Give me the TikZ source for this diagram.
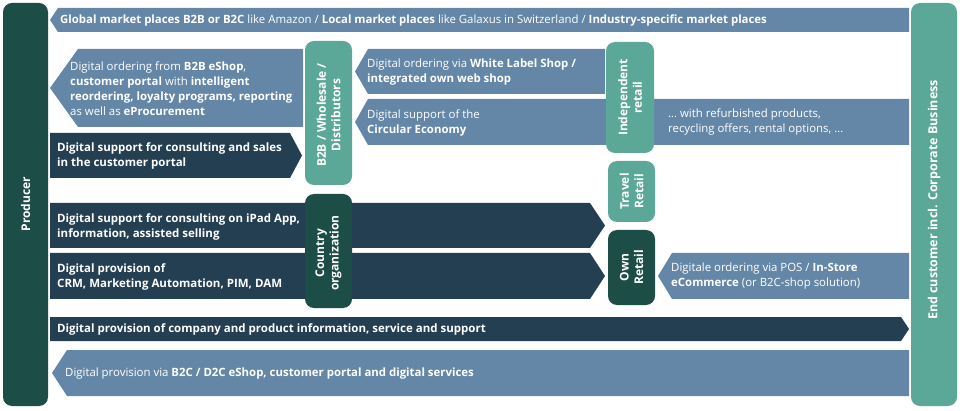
\documentclass[tikz,border=0pt]{standalone}
\usepackage{fontspec}
\setmainfont{Open Sans}
\usetikzlibrary{calc}
\definecolor{prodgreen}{HTML}{1D4D47}
\definecolor{custteal}{HTML}{5BA898}
\definecolor{flowblue}{HTML}{6587A7}
\definecolor{flownavy}{HTML}{243F52}
% flow band pointing left / right: [colour](x left:x right:y top:y bottom:tip depth)
\def\leftflow[#1](#2:#3:#4:#5:#6){\fill[#1] (#2,{(#4+#5)/2}) -- ({#2+#6},#4) -- (#3,#4) -- (#3,#5) -- ({#2+#6},#5) -- cycle;}
\def\rightflow[#1](#2:#3:#4:#5:#6){\fill[#1] (#2,#4) -- ({#3-#6},#4) -- (#3,{(#4+#5)/2}) -- ({#3-#6},#5) -- (#2,#5) -- cycle;}
\tikzset{
  flowtext/.style={anchor=west, align=left, text=white, inner sep=0pt, font=\fontsize{11.4}{15}\selectfont},
  boldflowtext/.style={flowtext, font=\bfseries\fontsize{11.5}{15}\selectfont},
  channel/.style={rounded corners=9pt},
  channeltext/.style={rotate=90, align=center, text=white, inner sep=0pt, font=\bfseries\fontsize{12}{14.5}\selectfont}
}
\begin{document}
\begin{tikzpicture}[x=1pt, y=-1pt]
		%%%%% START %%%%%
		\useasboundingbox (0, 0) rectangle (960, 411);
		
		% producer and end customer
		\fill[prodgreen, channel] (3, 3) rectangle (48, 406);
		\fill[custteal, channel] (911, 3) rectangle (957, 406);
		\node[channeltext, font=\bfseries\fontsize{12}{14}\selectfont] (producer) at (25.5, 204) {Producer};
		\node[channeltext, font=\bfseries\fontsize{12.5}{14}\selectfont] (customer) at (934, 200) {End customer incl. Corporate Business};
		
		% flows
		\leftflow[flowblue](50:909:8:32:8);
		\leftflow[flowblue](50:303:49:127:28);
		\leftflow[flowblue](355:605:49:94:13);
		\leftflow[flowblue](355:909:99:145:13);
		\rightflow[flownavy](50:302:133:178:12);
		\rightflow[flownavy](50:605:203:248:15);
		\rightflow[flownavy](50:605:253:299:15);
		\leftflow[flowblue](658:909:253:299:14);
		\rightflow[flownavy](50:909:317:341:8);
		\leftflow[flowblue](52:909:350:396:15);
		
		% channels
		\fill[custteal, channel] (305, 41) rectangle (352, 185);
		\fill[prodgreen, channel] (305, 194) rectangle (352, 308);
		\fill[custteal, channel] (606, 42) rectangle (654, 153);
		\fill[custteal, channel] (608, 161) rectangle (655, 222);
		\fill[prodgreen, channel] (608, 230) rectangle (655, 305);
		\node[channeltext] (b2b) at (328.5, 115) {B2B / Wholesale /\\Distributors};
		\node[channeltext] (country) at (328.5, 253) {Country\\organization};
		\node[channeltext] (independent) at (630, 97.5) {Independent\\retail};
		\node[channeltext] (travel) at (631.5, 191.5) {Travel\\Retail};
		\node[channeltext] (ownretail) at (631.5, 267.5) {Own\\Retail};
		
		% texts
		\node[flowtext] (marketplaces) at (60, 20.5) {\textbf{Global market places B2B or B2C} like Amazon / \textbf{Local market places} like Galaxus in Switzerland / \textbf{Industry-specific market places}};
		\node[flowtext] (eshop) at (70, 89) {Digital ordering from \textbf{B2B eShop},\\\textbf{customer portal} with \textbf{intelligent}\\\textbf{reordering, loyalty programs, reporting}\\as well as \textbf{eProcurement}};
		\node[flowtext] (whitelabel) at (367, 72.5) {Digital ordering via \textbf{White Label Shop /}\\\textbf{integrated own web shop}};
		\node[flowtext] (circular) at (367, 123) {Digital support of the\\\textbf{Circular Economy}};
		\node[flowtext] (refurbished) at (668, 122.5) {\dots\ with refurbished products,\\recycling offers, rental options, \dots};
		\node[boldflowtext] (portal) at (57, 155.5) {Digital support for consulting and sales\\in the customer portal};
		\node[boldflowtext] (ipad) at (57, 227) {Digital support for consulting on iPad App,\\information, assisted selling};
		\node[boldflowtext] (crm) at (57, 276.5) {Digital provision of\\CRM, Marketing Automation, PIM, DAM};
		\node[flowtext] (pos) at (671, 276) {Digitale ordering via POS / \textbf{In-Store}\\\textbf{eCommerce} (or B2C-shop solution)};
		\node[boldflowtext] (information) at (57, 329) {Digital provision of company and product information, service and support};
		\node[flowtext] (d2c) at (65, 373.5) {Digital provision via \textbf{B2C / D2C eShop, customer portal and digital services}};
		
		%%%%% END %%%%%
	\end{tikzpicture}
\end{document}
